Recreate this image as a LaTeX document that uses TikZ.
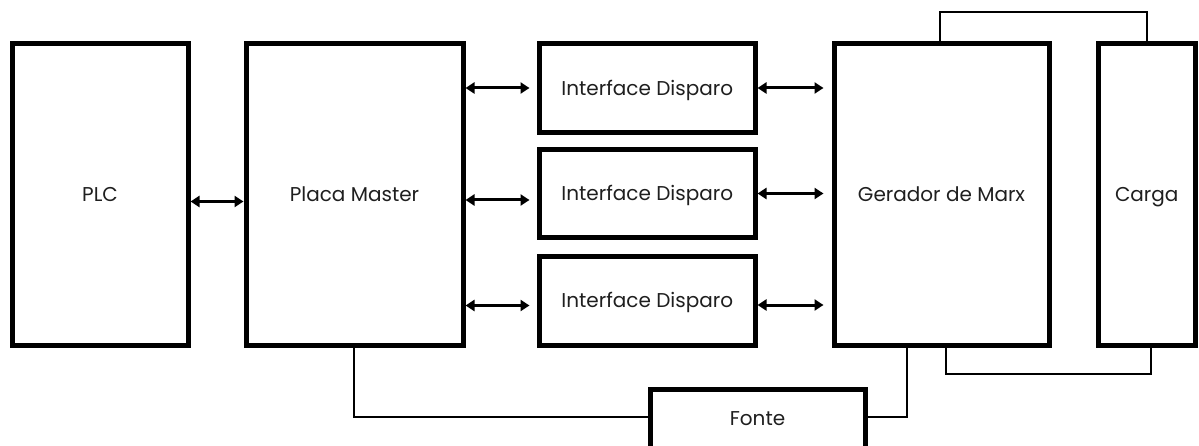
\documentclass[tikz,border=0pt]{standalone}
\usepackage{fontspec}
\setmainfont{Poppins}
\usetikzlibrary{arrows.meta}
\begin{document}
\begin{tikzpicture}[x=1pt,y=-1pt,
  block/.style={draw=black, line width=5pt, fill=white, inner sep=0pt,
    font=\fontsize{20}{24}\selectfont, text=black!88,
    text height=14pt, text depth=0pt},
  dblarrow/.style={line width=3pt, {Triangle[length=9pt,width=11pt]}-{Triangle[length=9pt,width=11pt]}},
  wire/.style={line width=2.6pt, line join=miter}]
\clip (0,0) rectangle (1199,446);
\fill[white] (0,0) rectangle (1199,446);

% blocks
\node[block, minimum width=176pt, minimum height=301pt] (plc) at (100,194.5) {PLC};
\node[block, minimum width=217pt, minimum height=301pt] (placa) at (354.5,194.5) {Placa Master};
\node[block, minimum width=215.5pt, minimum height=88.5pt] (int1) at (647.25,88.25) {Interface Disparo};
\node[block, minimum width=215.5pt, minimum height=87.5pt] (int2) at (647.25,193.75) {Interface Disparo};
\node[block, minimum width=215.5pt, minimum height=88pt] (int3) at (647.25,301) {Interface Disparo};
\node[block, minimum width=215pt, minimum height=301pt] (ger) at (941.5,194.5) {Gerador de Marx};
\node[block, minimum width=97.5pt, minimum height=301pt] (carga) at (1146.75,194.5) {Carga};
\node[block, minimum width=215pt, minimum height=59pt] (fonte) at (757.5,418.5) {Fonte};

% bidirectional links
\draw[dblarrow] (plc.east |- 0,201.5) -- (placa.west |- 0,201.5);
\draw[dblarrow, shorten >=7.5pt] (placa.east |- 0,88) -- (int1.west |- 0,88);
\draw[dblarrow, shorten >=7.5pt] (placa.east |- 0,200) -- (int2.west |- 0,200);
\draw[dblarrow, shorten >=7.5pt] (placa.east |- 0,305.5) -- (int3.west |- 0,305.5);
\draw[dblarrow, shorten >=8pt] (int1.east |- 0,88) -- (ger.west |- 0,88);
\draw[dblarrow, shorten >=8pt] (int2.east |- 0,193.5) -- (ger.west |- 0,193.5);
\draw[dblarrow, shorten >=8pt] (int3.east |- 0,305) -- (ger.west |- 0,305);

% generator to load
\draw[wire] (ger.north -| 940,0) -- (940,12) -- (1147,12) -- (carga.north -| 1147,0);
\draw[wire] (ger.south -| 946,0) -- (946,374) -- (1151,374) -- (carga.south -| 1151,0);

% supply lines
\draw[wire] (placa.south -| 354,0) -- (354,417) -- (fonte.west |- 0,417);
\draw[wire] (ger.south -| 907,0) -- (907,417) -- (fonte.east |- 0,417);
\end{tikzpicture}
\end{document}
